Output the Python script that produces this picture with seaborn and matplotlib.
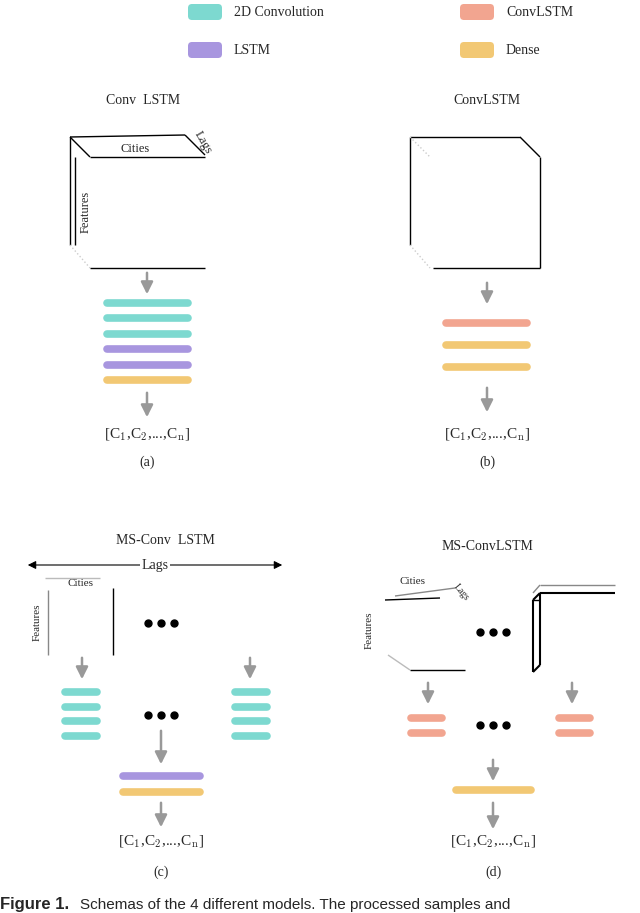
import matplotlib
matplotlib.use("Agg")
import matplotlib.pyplot as plt
import seaborn as sns
from matplotlib.patches import FancyBboxPatch

sns.set_theme(style="white")
plt.rcParams['font.family'] = ['Liberation Serif', 'DejaVu Serif']
plt.rcParams['mathtext.fontset'] = 'cm'

# layer colours
colors = {"2D Convolution": "#7dd9d0", "ConvLSTM": "#f2a590",
          "LSTM": "#a896df", "Dense": "#f2c874"}
legend_items = ["2D Convolution", "ConvLSTM", "LSTM", "Dense"]
stack_a = ["2D Convolution"] * 3 + ["LSTM"] * 2 + ["Dense"]
stack_b = ["ConvLSTM", "Dense", "Dense"]
stack_c_side = ["2D Convolution"] * 4
stack_c_mid = ["LSTM", "Dense"]
stack_d_side = ["ConvLSTM"] * 2
stack_d_mid = ["Dense"]
titles = ["Conv  LSTM", "ConvLSTM", "MS-Conv  LSTM", "MS-ConvLSTM"]
sublabels = ["(a)", "(b)", "(c)", "(d)"]
out_label = r"[C$_1$,C$_2$,...,C$_\mathrm{n}$]"

fig = plt.figure(figsize=(6.4, 9.13), dpi=100)
ax = fig.add_axes([0, 0, 1, 1])
ax.set_xlim(0, 640); ax.set_ylim(913, 0); ax.axis("off")

def txt(x, y, s, size=10, **kw):
    ax.text(x, y, s, fontsize=size, ha=kw.pop("ha", "center"), va=kw.pop("va", "center"), **kw)

def line(xs, ys, lw=1.0, c="black", **kw):
    ax.plot(xs, ys, color=c, lw=lw, solid_capstyle="butt", **kw)

def arrow(x, y0, y1):
    ax.annotate("", xy=(x, y1), xytext=(x, y0),
                arrowprops=dict(arrowstyle="-|>,head_width=0.3,head_length=0.6", color="#999999", lw=1.8))

def stack(x0, x1, y0, dy, names):
    for i, n in enumerate(names):
        ax.plot([x0, x1], [y0 + i * dy] * 2, color=colors[n], lw=5.5, solid_capstyle="round")

def dots(x, y):
    for dx in (-13, 0, 13):
        ax.plot(x + dx, y, "o", color="black", ms=5)

# legend
for i, name in enumerate(legend_items):
    lx = 188 if i % 2 == 0 else 460
    ly = 12 if i < 2 else 50
    ax.add_patch(FancyBboxPatch((lx, ly - 8), 34, 16, boxstyle="round,pad=0,rounding_size=4",
                                fc=colors[name], ec="none"))
    txt(lx + 46, ly, name, 10, ha="left")

# panel (a)
txt(143, 100, titles[0], 10)
line([70, 70], [137, 245]); line([70, 185], [137, 135]); line([185, 205], [135, 155])
line([70, 90], [137, 157]); line([90, 205], [157, 157]); line([75, 75], [157, 245])
line([90, 205], [268, 268]); line([70, 90], [245, 268], c="#cccccc", ls=":")
txt(135, 149, "Cities", 9); txt(203, 143, "Lags", 9, rotation=-60)
txt(86, 212, "Features", 9, rotation=90)
arrow(147, 270, 297); stack(107, 188, 303, 15.4, stack_a); arrow(147, 390, 420)
txt(147, 435, out_label, 11); txt(147, 462, sublabels[0], 10)

# panel (b)
txt(487, 100, titles[1], 10)
line([410, 410], [137, 245]); line([410, 520], [137, 137]); line([520, 540], [137, 157])
line([540, 540], [157, 268]); line([433, 540], [268, 268])
line([410, 430], [137, 157], c="#cccccc", ls=":"); line([410, 430], [245, 268], c="#cccccc", ls=":")
arrow(487, 280, 307); stack(446, 527, 323, 22, stack_b); arrow(487, 385, 415)
txt(487, 435, out_label, 11); txt(487, 462, sublabels[1], 10)

# panel (c)
txt(165, 541, titles[2], 10)
ax.annotate("", xy=(25, 565), xytext=(285, 565), arrowprops=dict(arrowstyle="<|-|>", color="black", lw=0.8))
txt(155, 565, "Lags", 10, bbox=dict(fc="white", ec="none", pad=1))
txt(80, 583, "Cities", 8); line([45, 100], [578, 578], c="#bbbbbb")
txt(37, 622, "Features", 8, rotation=90)
line([48, 48], [590, 655], c="#888888"); line([113, 113], [588, 655])
dots(161, 623)
arrow(82, 655, 682); stack(65, 97, 692, 14.7, stack_c_side)
arrow(250, 655, 682); stack(235, 267, 692, 14.7, stack_c_side)
dots(161, 715); arrow(161, 728, 767)
stack(123, 200, 776, 16, stack_c_mid); arrow(161, 800, 830)
txt(161, 842, out_label, 11); txt(161, 872, sublabels[2], 10)

# panel (d)
txt(487, 546, titles[3], 10)
line([385, 440], [600, 598]); line([395, 455], [596, 588], c="#888888")
txt(413, 581, "Cities", 8); txt(461, 592, "Lags", 7, rotation=-50)
txt(369, 630, "Features", 8, rotation=90)
line([410, 465], [670, 670]); line([388, 410], [655, 670], c="#bbbbbb")
dots(493, 632)
line([533, 533], [600, 672], lw=1.5); line([540, 540], [593, 665], lw=1.5)
line([533, 540], [600, 593], lw=1.5); line([533, 540], [672, 665], lw=1.5)
line([540, 615], [593, 593], lw=1.5); line([533, 540], [600, 600]); line([540, 615], [585, 585], c="#888888")
line([533, 540], [593, 585], c="#888888")
arrow(428, 680, 707); stack(411, 442, 718, 15, stack_d_side)
arrow(572, 680, 707); stack(559, 590, 718, 15, stack_d_side)
dots(493, 725); arrow(493, 757, 784)
stack(456, 531, 790, 15, stack_d_mid); arrow(493, 800, 832)
txt(493, 842, out_label, 11); txt(493, 872, sublabels[3], 10)

# caption (cut off at the edge as in the source)
txt(0, 905, "Figure 1.", 12, ha="left", fontweight="bold", family="Liberation Sans")
txt(80, 905, "Schemas of the 4 different models. The processed samples and", 11, ha="left",
    family="Liberation Sans")

fig.savefig("out.png", dpi=100)
